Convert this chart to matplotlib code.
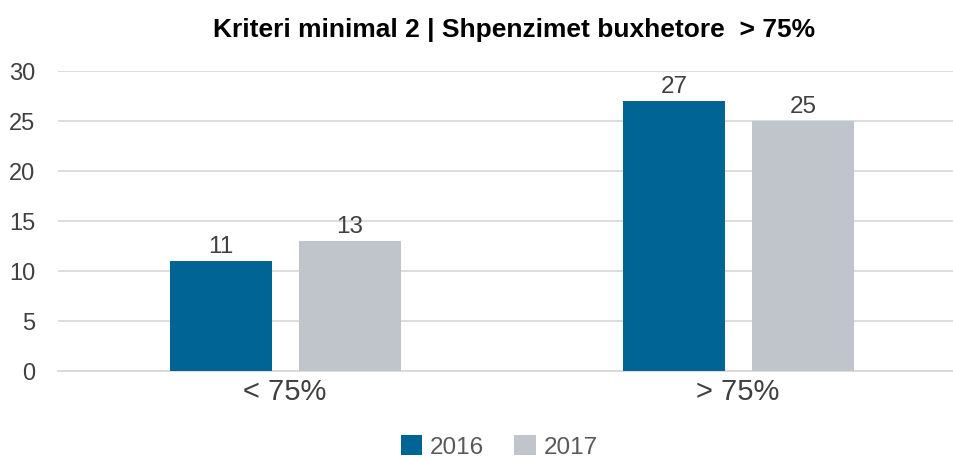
import matplotlib.pyplot as plt
import numpy as np

plt.rcParams['font.family'] = ['Liberation Sans', 'DejaVu Sans']

categories = ['< 75%', '> 75%']
years = ['2016', '2017']
values_2016 = [11, 27]
values_2017 = [13, 25]
colors = ['#006494', '#C0C5CB']

fig = plt.figure(figsize=(9.54, 4.59), dpi=100)
ax = fig.add_axes([58.5 / 954, 1 - 371 / 459, 906 / 954, 300 / 459])

x = np.arange(len(categories))
w = 0.225
b1 = ax.bar(x - 0.141, values_2016, w, color=colors[0], label=years[0], zorder=3)
b2 = ax.bar(x + 0.143, values_2017, w, color=colors[1], label=years[1], zorder=3)

for bars in (b1, b2):
    for r in bars:
        ax.text(r.get_x() + r.get_width() / 2, r.get_height() + 0.3, f'{r.get_height():g}',
                ha='center', va='bottom', fontsize=17.5, color='#404040')

ax.set_xlim(-0.5, 1.5)
ax.set_ylim(0, 30)
ax.set_yticks(range(0, 31, 5))
ax.set_xticks(x)
ax.set_xticklabels(categories, fontsize=21, color='#404040')
ax.tick_params(axis='y', labelsize=17, labelcolor='#404040', length=0, pad=16.5)
ax.tick_params(axis='x', length=0, pad=5)
ax.yaxis.grid(True, color='#D9D9D9', linewidth=1.3, zorder=0)
for s in ['top', 'right', 'left']:
    ax.spines[s].set_visible(False)
ax.spines['bottom'].set_color('#D9D9D9')
ax.spines['bottom'].set_linewidth(1.3)

fig.text(514 / 954, 1 - 30 / 459, 'Kriteri minimal 2 | Shpenzimet buxhetore  > 75%',
         ha='center', va='center', fontsize=19, fontweight='bold', color='#000000')

fig.legend(loc='center', bbox_to_anchor=(499 / 954, 1 - 447 / 459), ncol=2, frameon=False,
           fontsize=17.5, handlelength=0.9, handleheight=0.9, handletextpad=0.3,
           columnspacing=1.25, labelcolor='#595959')

fig.savefig('out.png', dpi=100)
